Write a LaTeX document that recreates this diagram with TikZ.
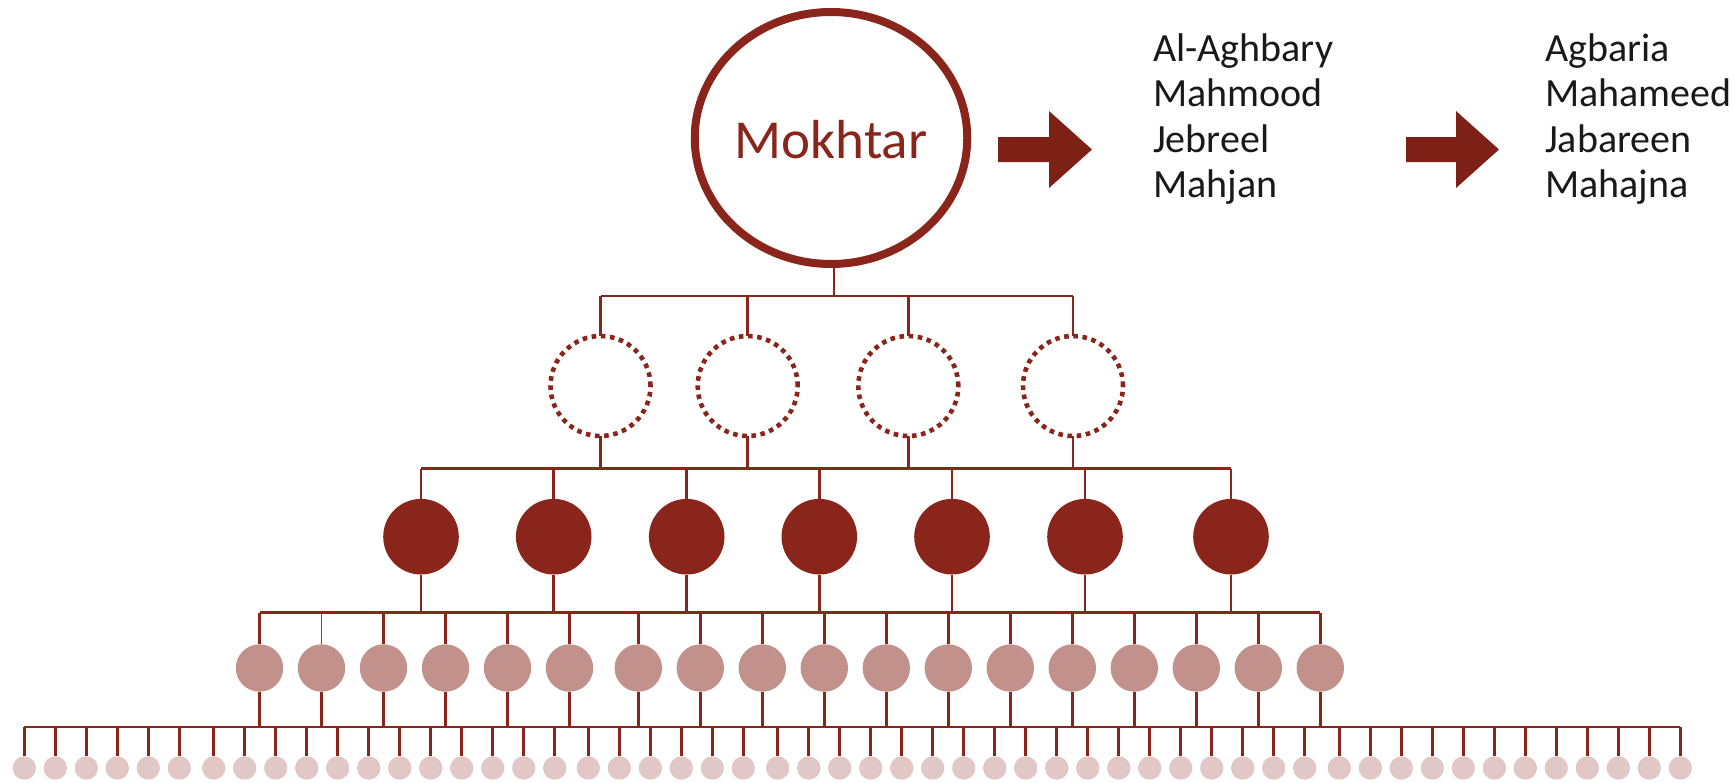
\documentclass[tikz,border=0pt]{standalone}
\usepackage{fontspec}
\setmainfont{Carlito}
\usetikzlibrary{shapes.geometric}
\definecolor{dred}{RGB}{137,37,27}
\definecolor{arrred}{RGB}{125,33,23}
\definecolor{midpink}{RGB}{194,145,139}
\definecolor{lightpink}{RGB}{225,199,197}
\definecolor{tealline}{RGB}{30,105,105}
\definecolor{txt}{RGB}{25,25,25}
\begin{document}
\begin{tikzpicture}[x=1pt,y=-1pt,
  conn/.style={draw=dred,line width=2.6pt},
  tealconn/.style={draw=tealline,line width=1.6pt},
  topnode/.style={ellipse,draw=dred,line width=8pt,minimum width=266pt,minimum height=252pt,
    inner sep=0pt,outer sep=0pt,text=dred,font=\fontsize{55}{62}\selectfont,
    text height=40pt,text depth=0pt},
  dotnode/.style={circle,draw=dred,line width=4.6pt,dash pattern=on 4.6pt off 4.6pt,
    minimum size=100pt,inner sep=0pt,outer sep=0pt},
  fullnode/.style={circle,fill=dred,minimum size=75.6pt,inner sep=0pt,outer sep=0pt},
  midnode/.style={circle,fill=midpink,minimum size=47.4pt,inner sep=0pt,outer sep=0pt},
  smallnode/.style={circle,fill=lightpink,minimum size=23.4pt,inner sep=0pt,outer sep=0pt},
  nametext/.style={anchor=base west,inner sep=0pt,text=txt,font=\fontsize{40}{46}\selectfont},
  bigarrow/.style={fill=arrred}
]
\useasboundingbox (0,0) rectangle (1735,782);

% top node
\node[topnode] (M) at (831,138) {Mokhtar};

% arrows
\fill[bigarrow] (998,137) -- (1049,137) -- (1049,111) -- (1092,149.5) -- (1049,188) -- (1049,162) -- (998,162) -- cycle;
\fill[bigarrow] (1406,137) -- (1456,137) -- (1456,111) -- (1499,149.5) -- (1456,188) -- (1456,162) -- (1406,162) -- cycle;

% names
\node[nametext] (a1) at (1153,61) {Al-Aghbary};
\node[nametext] (a2) at (1153,106.5) {Mahmood};
\node[nametext] (a3) at (1153,152) {Jebreel};
\node[nametext] (a4) at (1153,197.5) {Mahjan};
\node[nametext] (b1n) at (1545,61) {Agbaria};
\node[nametext] (b2n) at (1545,106.5) {Mahameed};
\node[nametext] (b3n) at (1545,152) {Jabareen};
\node[nametext] (b4n) at (1545,197.5) {Mahajna};

% level 1: dotted circles
\foreach \x [count=\i] in {600.5,747.7,908.3,1073}
  \node[dotnode] (d\i) at (\x,386) {};
% level 2: filled circles
\foreach \x [count=\i] in {421,553.7,686.7,819.3,952,1085,1231}
  \node[fullnode] (f\i) at (\x,536.7) {};
% level 3: mid circles
\foreach \x [count=\i] in {259.5,321.5,383.5,445.5,507.5,569.5,638.3,700.3,762.3,824.3,886.3,948.3,1010.3,1072.3,1134.3,1196.3,1258.3,1320.3}
  \node[midnode] (m\i) at (\x,668) {};
% level 4: small circles
\foreach \x [count=\i] in {24.3,55.3,86.3,117.3,148.3,179.3,
  213.7,244.7,275.7,306.7,337.7,368.7,399.7,430.7,461.7,492.7,523.7,554.7,
  588.3,619.3,650.3,681.3,712.3,743.3,
  777.7,808.7,839.7,870.7,901.7,932.7,963.7,994.7,1025.7,1056.7,1087.7,1118.7,1149.7,1180.7,1211.7,1242.7,1273.7,1304.7,
  1339.3,1370.3,1401.3,1432.3,1463.3,1494.3,1525.3,1556.3,1587.3,1618.3,1649.3,1680.3}
  \node[smallnode] (s\i) at (\x,768) {};

% bar coordinates
\coordinate (bar1) at (834,296);
\coordinate (bar2) at (0,468.7);
\coordinate (bar3) at (0,612.7);
\coordinate (bar4) at (0,727);

% bar 1
\draw[conn] (M.south -| bar1) -- (bar1);
\draw[conn] (d1.north |- bar1) -- (d4.north |- bar1);
\foreach \i in {1,...,4}
  \draw[conn] (d\i.north |- bar1) -- (d\i.north);

% bar 2
\draw[conn] (f1.north |- bar2) -- (f7.north |- bar2);
\foreach \i in {1,...,4}
  \draw[conn] (d\i.south) -- (d\i.south |- bar2);
\foreach \i in {1,...,7}
  \draw[conn] (f\i.north |- bar2) -- (f\i.north);

% bar 3
\draw[conn] (m1.north |- bar3) -- (m18.north |- bar3);
\foreach \i in {1,...,7}
  \draw[conn] (f\i.south) -- (f\i.south |- bar3);
\foreach \i in {1,3,4,...,18}
  \draw[conn] (m\i.north |- bar3) -- (m\i.north);
\draw[tealconn] (m2.north |- bar3) -- (m2.north);

% bar 4
\draw[conn] (s1.north |- bar4) -- (s54.north |- bar4);
\foreach \i in {1,...,18}
  \draw[conn] (m\i.south) -- (m\i.south |- bar4);
\foreach \i in {1,...,54}
  \draw[conn] (s\i.north |- bar4) -- (s\i.north);
\end{tikzpicture}
\end{document}
